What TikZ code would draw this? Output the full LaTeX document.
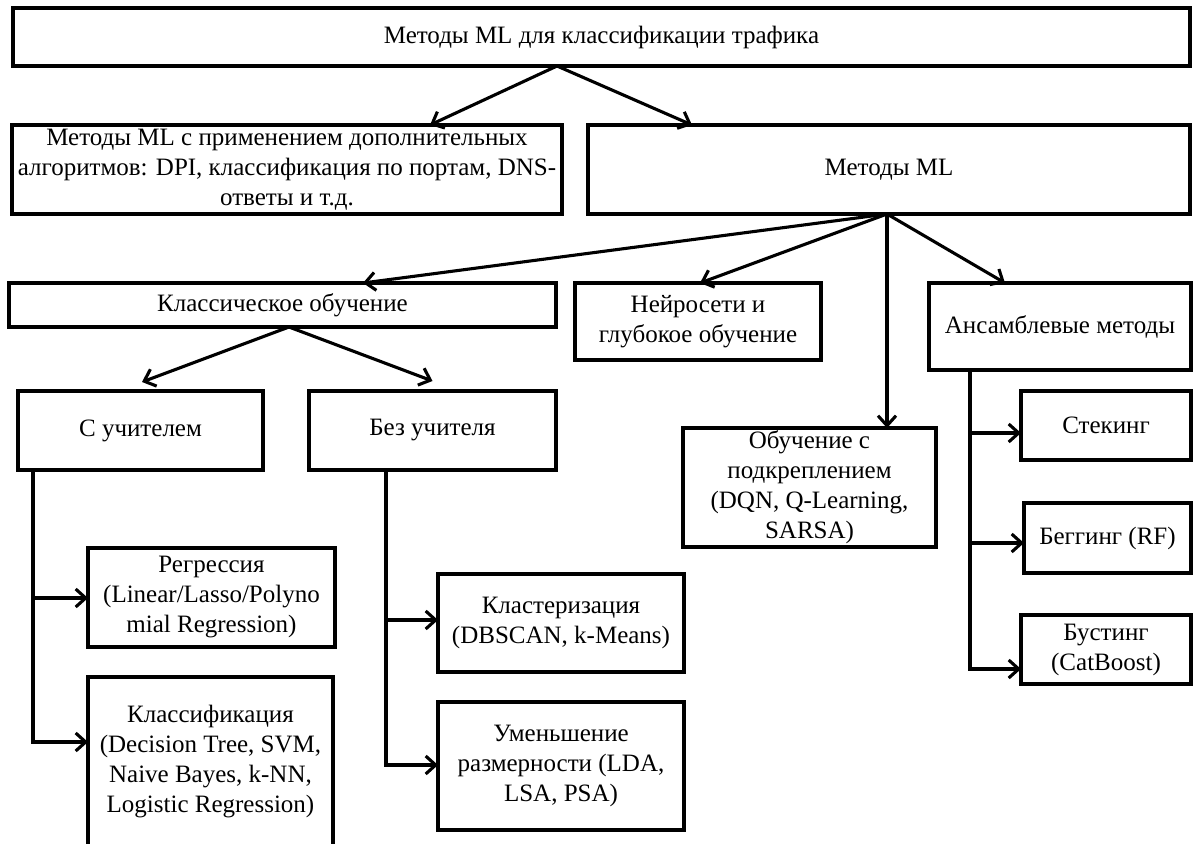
\documentclass[tikz,border=0pt]{standalone}
\usepackage{fontspec}
\setmainfont{Liberation Serif}
\usetikzlibrary{arrows.meta}
\begin{document}
\begin{tikzpicture}[x=1pt,y=-1pt,
  box/.style={draw, line width=3.3pt, inner sep=0pt, outer sep=0pt,
    align=center, font=\fontsize{25}{30}\selectfont},
  link/.style={line width=3.1pt,
    -{Straight Barb[length=10pt,width=18pt,line width=3.1pt]}},
  trunk/.style={line width=3.1pt}]
\fill[white] (0,0) rectangle (1198,843);
\useasboundingbox (0,0) rectangle (1198,843);

% upper levels
\node[box, minimum width=1177pt, minimum height=58pt] (top) at (601.5,37)
  {Методы ML для классификации трафика};
\node[box, minimum width=550pt, minimum height=89pt] (mladd) at (287,169.5)
  {Методы ML с применением дополнительных\\алгоритмов: DPI, классификация по портам, DNS-\\ответы и т.д.};
\node[box, minimum width=602pt, minimum height=89pt] (ml) at (889,169.5)
  {Методы ML};

\node[box, minimum width=547pt, minimum height=44pt] (classic) at (282.5,305)
  {Классическое обучение};
\node[box, minimum width=246pt, minimum height=77pt] (neuro) at (698,321.5)
  {Нейросети и\\глубокое обучение};
\node[box, minimum width=262pt, minimum height=87pt] (ens) at (1060,326.5)
  {Ансамблевые методы};

\node[box, minimum width=245pt, minimum height=79pt] (sup) at (140.5,430.5)
  {С учителем};
\node[box, minimum width=247pt, minimum height=79pt] (unsup) at (432.5,430.5)
  {Без учителя};
\node[box, minimum width=253pt, minimum height=119pt] (rl) at (809.5,487.5)
  {Обучение с\\подкреплением\\(DQN, Q-Learning,\\SARSA)};

% ensemble methods
\node[box, minimum width=170pt, minimum height=69pt] (stack) at (1106,425.5)
  {Стекинг};
\node[box, minimum width=167pt, minimum height=70pt] (bag) at (1107.5,538)
  {Беггинг (RF)};
\node[box, minimum width=170pt, minimum height=69pt] (boost) at (1106,649.5)
  {Бустинг\\(CatBoost)};

% supervised
\node[box, minimum width=247pt, minimum height=99pt] (reg) at (211.5,597.5)
  {Регрессия\\(Linear/Lasso/Polyno\\mial Regression)};
\node[box, minimum width=245pt, minimum height=169pt] (clf) at (210.5,761.5)
  {Классификация\\(Decision Tree, SVM,\\Naive Bayes, k-NN,\\Logistic Regression)};

% unsupervised
\node[box, minimum width=246pt, minimum height=98pt] (clust) at (561,623)
  {Кластеризация\\(DBSCAN, k-Means)};
\node[box, minimum width=246pt, minimum height=128pt] (dimred) at (561,766)
  {Уменьшение\\размерности (LDA,\\LSA, PSA)};

% fork points
\coordinate (topfork) at ([xshift=-44.5pt]top.south);
\coordinate (mlfork) at ([xshift=-2pt]ml.south);
\coordinate (clfork) at ([xshift=6.5pt]classic.south);

\draw[link] (topfork) -- ([xshift=143pt]mladd.north);
\draw[link] (topfork) -- ([xshift=-197pt]ml.north);

\draw[link] (mlfork) -- ([xshift=80.5pt]classic.north);
\draw[link] (mlfork) -- ([xshift=2pt]neuro.north);
\draw[link] (mlfork) -- ([xshift=77.5pt]rl.north);
\draw[link] (mlfork) -- ([xshift=-55pt]ens.north);

\draw[link] (clfork) -- ([xshift=1.5pt,yshift=9pt]sup.north);
\draw[link] (clfork) -- ([yshift=10pt]unsup.north);

% branch trunks
\coordinate (s0) at (33,470);
\coordinate (s1) at (33,598);
\coordinate (s2) at (33,742);
\draw[link] (s0) -- (s2) -- (s2 -| clf.west);
\draw[link] (s1) -- (s1 -| reg.west);

\coordinate (u0) at (386,470);
\coordinate (u1) at (386,620);
\coordinate (u2) at (386,765);
\draw[link] (u0) -- (u2) -- (u2 -| dimred.west);
\draw[link] (u1) -- (u1 -| clust.west);

\coordinate (e0) at (970,370);
\coordinate (e1) at (970,433);
\coordinate (e2) at (970,543);
\coordinate (e3) at (970,669);
\draw[link] (e0) -- (e3) -- (e3 -| boost.west);
\draw[link] (e1) -- (e1 -| stack.west);
\draw[link] (e2) -- (e2 -| bag.west);
\end{tikzpicture}
\end{document}
